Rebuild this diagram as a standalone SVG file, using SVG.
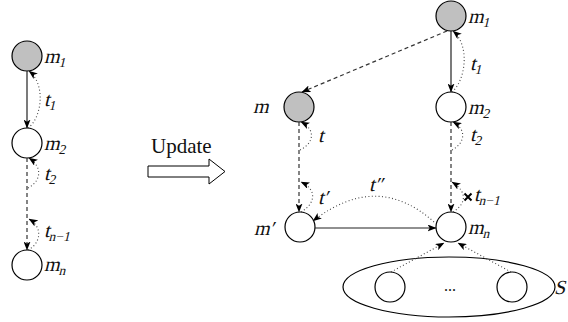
<svg xmlns="http://www.w3.org/2000/svg" width="568" height="322" viewBox="0 0 568 322">
  <style>
    .node { stroke: #000; stroke-width: 1.2; fill: #fff; }
    .gray { fill: #c0c0c0; }
    .solid { stroke: #222; stroke-width: 1.2; fill: none; }
    .dash { stroke: #333; stroke-width: 1.2; fill: none; stroke-dasharray: 4 3; }
    .dot { stroke: #444; stroke-width: 1.1; fill: none; stroke-dasharray: 1 2.4; }
    .lbl { font-family: "Liberation Serif", "DejaVu Serif", serif; font-size: 20px; fill: #111; }
    .sub { font-size: 13.5px; }
    .txt { font-family: "Liberation Serif", "DejaVu Serif", serif; font-size: 21px; fill: #111; }
  </style>
  <defs>
    <marker id="ah" viewBox="0 0 9 7" refX="8.5" refY="3.5" markerWidth="9" markerHeight="7" markerUnits="userSpaceOnUse" orient="auto">
      <path d="M0,0 L9,3.5 L0,7 L2.2,3.5 z" fill="#000"/>
    </marker>
  </defs>

  <!-- left chain -->
  <g id="L_m1"><circle class="node gray" cx="27" cy="56" r="15"/><text class="lbl" transform="translate(44,63) skewX(-14)">m<tspan class="sub" dy="4">1</tspan></text></g>
  <g id="L_m2"><circle class="node" cx="27" cy="143" r="15"/><text class="lbl" transform="translate(44,150) skewX(-14)">m<tspan class="sub" dy="4">2</tspan></text></g>
  <g id="L_mn"><circle class="node" cx="27" cy="265" r="15"/><text class="lbl" transform="translate(44,271) skewX(-14)">m<tspan class="sub" dy="4">n</tspan></text></g>

  <!-- update arrow -->
  <g id="update">
    <text class="txt" x="151" y="153">Update</text>
    <polygon points="148,166 209,166 209,159 225,171.5 209,184 209,177 148,177" fill="#fff" stroke="#000" stroke-width="1"/>
  </g>

  <!-- right chain -->
  <g id="R_m1"><circle class="node gray" cx="451" cy="16" r="15"/><text class="lbl" transform="translate(468,23) skewX(-14)">m<tspan class="sub" dy="4">1</tspan></text></g>
  <g id="R_m"><circle class="node gray" cx="299" cy="107" r="15"/><text class="lbl" transform="translate(253,113) skewX(-14)">m</text></g>
  <g id="R_m2"><circle class="node" cx="451" cy="107" r="15"/><text class="lbl" transform="translate(468,114) skewX(-14)">m<tspan class="sub" dy="4">2</tspan></text></g>
  <g id="R_mp"><circle class="node" cx="300" cy="227" r="15"/><text class="lbl" transform="translate(254,235) skewX(-14)">m′</text></g>
  <g id="R_mn"><circle class="node" cx="451" cy="227" r="15"/><text class="lbl" transform="translate(468,234) skewX(-14)">m<tspan class="sub" dy="4">n</tspan></text></g>
  <g id="S">
    <ellipse cx="449" cy="287" rx="106" ry="30" fill="none" stroke="#000" stroke-width="1.2"/>
    <circle class="node" cx="390" cy="287" r="15"/>
    <circle class="node" cx="512" cy="287" r="15"/>
    <text x="450" y="291" text-anchor="middle" font-family="Liberation Serif, serif" font-size="16" fill="#111">...</text>
    <text class="lbl" transform="translate(554,294) skewX(-14)" font-size="16">S</text>
  </g>

  <g id="connectors">
    <!-- left -->
    <line class="solid" x1="27" y1="71" x2="27" y2="128" marker-end="url(#ah)"/>
    <line class="dash" x1="27" y1="158" x2="27" y2="250" marker-end="url(#ah)"/>
    <path class="dot" d="M28,128 C42,118 46,84 29,71" marker-end="url(#ah)"/>
    <path class="dot" d="M28,188 C40,182 44,168 29,158" marker-end="url(#ah)"/>
    <path class="dot" d="M28,250 C40,244 44,228 29,219" marker-end="url(#ah)"/>

    <!-- right -->
    <line class="dash" x1="447" y1="31" x2="302" y2="92" marker-end="url(#ah)"/>
    <line class="solid" x1="451" y1="31" x2="451" y2="92" marker-end="url(#ah)"/>
    <path class="dot" d="M452,92 C466,80 470,45 453,31" marker-end="url(#ah)"/>
    <line class="dash" x1="451" y1="122" x2="451" y2="212" marker-end="url(#ah)"/>
    <path class="dot" d="M452,150 C464,144 468,130 453,122" marker-end="url(#ah)"/>
    <path class="dot" d="M453,212 C466,204 468,192 452,182" marker-end="url(#ah)"/>
    <path d="M464.5,193.5 L471.5,200.5 M471.5,193.5 L464.5,200.5" stroke="#000" stroke-width="2"/>

    <line class="dash" x1="299" y1="122" x2="299" y2="212" marker-end="url(#ah)"/>
    <path class="dot" d="M300,150 C313,144 317,130 301,122" marker-end="url(#ah)"/>
    <path class="dot" d="M301,212 C315,204 318,190 301,182" marker-end="url(#ah)"/>

    <line class="solid" x1="315" y1="228" x2="436" y2="228" marker-end="url(#ah)"/>
    <path class="dot" d="M434,222 Q377,171 313,221" marker-end="url(#ah)"/>

    <path class="dot" d="M391,272 L444,243" marker-end="url(#ah)"/>
    <path class="dot" d="M511,272 L458,243" marker-end="url(#ah)"/>
  </g>

  <!-- dotted-arc labels -->
  <g id="labels">
    <text class="lbl" transform="translate(44,106) skewX(-14)">t<tspan class="sub" dy="4">1</tspan></text>
    <text class="lbl" transform="translate(44,180) skewX(-14)">t<tspan class="sub" dy="4">2</tspan></text>
    <text class="lbl" transform="translate(44,237) skewX(-14)">t<tspan class="sub" dy="4">n−1</tspan></text>
    <text class="lbl" transform="translate(470,70) skewX(-14)">t<tspan class="sub" dy="4">1</tspan></text>
    <text class="lbl" transform="translate(470,141) skewX(-14)">t<tspan class="sub" dy="4">2</tspan></text>
    <text class="lbl" transform="translate(474,201) skewX(-14)">t<tspan class="sub" dy="4">n−1</tspan></text>
    <text class="lbl" transform="translate(318,142) skewX(-14)">t</text>
    <text class="lbl" transform="translate(318,204) skewX(-14)">t′</text>
    <text class="lbl" transform="translate(369,191) skewX(-14)">t″</text>
  </g>
</svg>
